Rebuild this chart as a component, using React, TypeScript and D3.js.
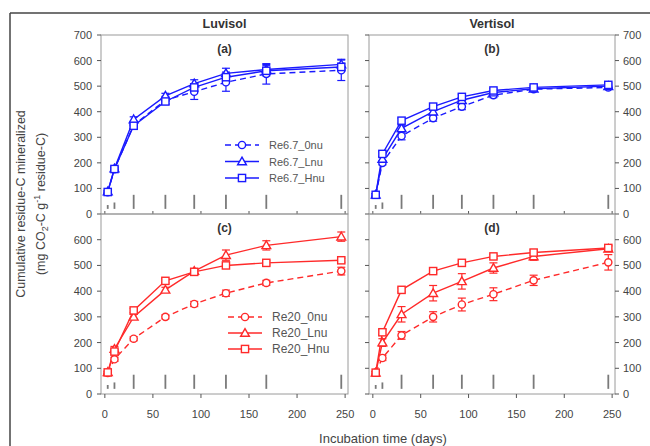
import React from "react";
import * as d3 from "d3";

// Sampling days of the incubation
const days = [3, 10, 30, 63, 93, 126, 168, 246];

// Luvisol, Re6.7 residue (blue)
const luvRe67_0nu = [85, 175, 348, 445, 478, 515, 548, 562];
const luvRe67_0nuErr = [5, 8, 15, 15, 30, 35, 40, 40];
const luvRe67_Lnu = [88, 178, 370, 462, 510, 550, 565, 585];
const luvRe67_LnuErr = [5, 8, 10, 10, 15, 20, 20, 20];
const luvRe67_Hnu = [86, 176, 345, 440, 495, 535, 560, 575];
const luvRe67_HnuErr = [5, 5, 10, 10, 15, 20, 20, 15];

// Vertisol, Re6.7 residue (blue)
const verRe67_0nu = [75, 200, 305, 375, 420, 465, 488, 495];
const verRe67_0nuErr = [5, 8, 15, 12, 12, 10, 8, 8];
const verRe67_Lnu = [75, 215, 335, 400, 445, 475, 490, 500];
const verRe67_LnuErr = [5, 10, 12, 10, 10, 8, 8, 8];
const verRe67_Hnu = [75, 235, 365, 420, 458, 483, 495, 505];
const verRe67_HnuErr = [5, 10, 10, 10, 10, 8, 8, 8];

// Luvisol, Re20 residue (red)
const luvRe20_0nu = [82, 135, 215, 300, 350, 392, 432, 478];
const luvRe20_0nuErr = [5, 8, 8, 8, 10, 12, 10, 15];
const luvRe20_Lnu = [85, 175, 300, 405, 478, 540, 578, 612];
const luvRe20_LnuErr = [5, 10, 10, 10, 10, 20, 18, 18];
const luvRe20_Hnu = [84, 165, 325, 440, 475, 500, 510, 520];
const luvRe20_HnuErr = [5, 8, 8, 8, 8, 8, 8, 8];

// Vertisol, Re20 residue (red)
const verRe20_0nu = [83, 140, 228, 300, 348, 388, 442, 512];
const verRe20_0nuErr = [5, 10, 15, 20, 25, 25, 20, 30];
const verRe20_Lnu = [83, 200, 310, 392, 438, 490, 535, 565];
const verRe20_LnuErr = [5, 15, 30, 30, 30, 20, 15, 10];
const verRe20_Hnu = [83, 240, 405, 478, 510, 535, 550, 568];
const verRe20_HnuErr = [5, 10, 8, 8, 8, 8, 10, 10];

// Grey sampling markers near the baseline (low / high values)
const markLow = [20, 20, 20, 20, 20, 20, 20, 20];
const markHigh = [35, 45, 75, 75, 75, 75, 75, 75];

const yTicksTop = [0, 100, 200, 300, 400, 500, 600, 700];
const yTicksBottom = [0, 100, 200, 300, 400, 500, 600];
const xTicks = [0, 50, 100, 150, 200, 250];

const BLUE = "#1a1aff";
const RED = "#ff2a2a";
const FONT = "Liberation Sans, Arial, sans-serif";

type Marker = "circle" | "triangle" | "square";
type Series = { name: string; values: number[]; err: number[]; marker: Marker; dashed: boolean };

function MarkerShape({ kind, x, y, color }: { kind: Marker; x: number; y: number; color: string }) {
  const sw = 1.4;
  if (kind === "circle") return <circle cx={x} cy={y} r={3.6} fill="white" stroke={color} strokeWidth={sw} />;
  if (kind === "square")
    return <rect x={x - 3.6} y={y - 3.6} width={7.2} height={7.2} fill="white" stroke={color} strokeWidth={sw} />;
  const s = 4.4;
  return (
    <path
      d={`M${x},${y - s} L${x + s},${y + s * 0.75} L${x - s},${y + s * 0.75} Z`}
      fill="white"
      stroke={color}
      strokeWidth={sw}
    />
  );
}

type PanelProps = {
  x0: number;
  x1: number;
  y0: number;
  y1: number;
  yMaxTick: number[];
  series: Series[];
  color: string;
  label: string;
  leftLabels: boolean;
  rightLabels: boolean;
  bottomLabels: boolean;
};

function Panel({ x0, x1, y0, y1, yMaxTick, series, color, label, leftLabels, rightLabels, bottomLabels }: PanelProps) {
  const x = d3.scaleLinear().domain([-4, 253]).range([x0, x1]);
  const y = d3.scaleLinear().domain([0, 700]).range([y1, y0]);
  const line = d3
    .line<number>()
    .x((_, i) => x(days[i]))
    .y((v) => y(v));
  const tickCol = "#555";
  const labCol = "#444";
  return (
    <g>
      {/* baseline sampling marks */}
      {days.map((d, i) => (
        <line key={"m" + i} x1={x(d)} x2={x(d)} y1={y(markLow[i])} y2={y(markHigh[i])} stroke="#7a7a7a" strokeWidth={1.8} />
      ))}
      {/* series lines */}
      {series.map((s) => (
        <path
          key={"l" + s.name}
          d={line(s.values) ?? ""}
          fill="none"
          stroke={color}
          strokeWidth={1.4}
          strokeDasharray={s.dashed ? "6,4" : undefined}
        />
      ))}
      {/* error bars */}
      {series.map((s) =>
        s.values.map((v, i) => {
          const cx = x(days[i]);
          const top = y(v + s.err[i]);
          const bot = y(v - s.err[i]);
          return (
            <g key={"e" + s.name + i} stroke={color} strokeWidth={1.2}>
              <line x1={cx} x2={cx} y1={top} y2={bot} />
              <line x1={cx - 4} x2={cx + 4} y1={top} y2={top} />
              <line x1={cx - 4} x2={cx + 4} y1={bot} y2={bot} />
            </g>
          );
        })
      )}
      {/* markers */}
      {series.map((s) =>
        s.values.map((v, i) => <MarkerShape key={"p" + s.name + i} kind={s.marker} x={x(days[i])} y={y(v)} color={color} />)
      )}
      {/* frame */}
      <rect x={x0} y={y0} width={x1 - x0} height={y1 - y0} fill="none" stroke="#9a9a9a" strokeWidth={1} />
      {/* left y ticks */}
      {yMaxTick.map((t) => (
        <g key={"yl" + t}>
          <line x1={x0 - 4} x2={x0} y1={y(t)} y2={y(t)} stroke={tickCol} strokeWidth={1} />
          {leftLabels && (
            <text x={x0 - 9} y={y(t) + 4} textAnchor="end" fontSize={11} fill={labCol} fontFamily={FONT}>
              {t}
            </text>
          )}
        </g>
      ))}
      {/* right y ticks */}
      {rightLabels &&
        yMaxTick.map((t) => (
          <g key={"yr" + t}>
            <line x1={x1} x2={x1 + 4} y1={y(t)} y2={y(t)} stroke={tickCol} strokeWidth={1} />
            <text x={x1 + 8} y={y(t) + 4} textAnchor="start" fontSize={11} fill={labCol} fontFamily={FONT}>
              {t}
            </text>
          </g>
        ))}
      {/* x ticks */}
      {xTicks.map((t) =>
        bottomLabels ? (
          <g key={"x" + t}>
            <line x1={x(t)} x2={x(t)} y1={y1} y2={y1 + 4} stroke={tickCol} strokeWidth={1} />
            <text x={x(t)} y={y1 + 24} textAnchor="middle" fontSize={11} fill={labCol} fontFamily={FONT}>
              {t}
            </text>
          </g>
        ) : (
          <line key={"x" + t} x1={x(t)} x2={x(t)} y1={y1} y2={y1 - 3} stroke={tickCol} strokeWidth={1} />
        )
      )}
      <text
        x={(x0 + x1) / 2}
        y={y0 + 18}
        textAnchor="middle"
        fontSize={12}
        fontWeight="bold"
        fill="#333"
        fontFamily={FONT}
      >
        {label}
      </text>
    </g>
  );
}

function Legend({ x, y, series, color, fontSize, gap }: { x: number; y: number; series: Series[]; color: string; fontSize: number; gap: number }) {
  return (
    <g>
      {series.map((s, i) => {
        const cy = y + i * gap;
        return (
          <g key={s.name}>
            <line
              x1={x}
              x2={x + 34}
              y1={cy}
              y2={cy}
              stroke={color}
              strokeWidth={1.4}
              strokeDasharray={s.dashed ? "6,4" : undefined}
            />
            <MarkerShape kind={s.marker} x={x + 17} y={cy} color={color} />
            <text x={x + 44} y={cy + 4} fontSize={fontSize} fill="#555" fontFamily={FONT}>
              {s.name}
            </text>
          </g>
        );
      })}
    </g>
  );
}

export default function App() {
  const mk = (names: string[], vals: number[][], errs: number[][]): Series[] => [
    { name: names[0], values: vals[0], err: errs[0], marker: "circle", dashed: true },
    { name: names[1], values: vals[1], err: errs[1], marker: "triangle", dashed: false },
    { name: names[2], values: vals[2], err: errs[2], marker: "square", dashed: false },
  ];
  const n67 = ["Re6.7_0nu", "Re6.7_Lnu", "Re6.7_Hnu"];
  const n20 = ["Re20_0nu", "Re20_Lnu", "Re20_Hnu"];
  const sA = mk(n67, [luvRe67_0nu, luvRe67_Lnu, luvRe67_Hnu], [luvRe67_0nuErr, luvRe67_LnuErr, luvRe67_HnuErr]);
  const sB = mk(n67, [verRe67_0nu, verRe67_Lnu, verRe67_Hnu], [verRe67_0nuErr, verRe67_LnuErr, verRe67_HnuErr]);
  const sC = mk(n20, [luvRe20_0nu, luvRe20_Lnu, luvRe20_Hnu], [luvRe20_0nuErr, luvRe20_LnuErr, luvRe20_HnuErr]);
  const sD = mk(n20, [verRe20_0nu, verRe20_Lnu, verRe20_Hnu], [verRe20_0nuErr, verRe20_LnuErr, verRe20_HnuErr]);

  const L = { x0: 101, x1: 348 };
  const R = { x0: 369, x1: 615 };
  const T = { y0: 35, y1: 214 };
  const B = { y0: 214, y1: 394 };

  return (
    <svg
      width={650}
      height={446}
      style={{ position: "absolute", left: 0, top: 0, background: "white" }}
      fontFamily={FONT}
    >
      {/* outer figure frame */}
      <line x1={10} x2={650} y1={13} y2={13} stroke="#444" strokeWidth={1.5} />
      <line x1={10} x2={10} y1={13} y2={446} stroke="#444" strokeWidth={1.5} />

      <text x={(L.x0 + L.x1) / 2} y={28} textAnchor="middle" fontSize={12.5} fontWeight="bold" fill="#333">
        Luvisol
      </text>
      <text x={(R.x0 + R.x1) / 2} y={28} textAnchor="middle" fontSize={12.5} fontWeight="bold" fill="#333">
        Vertisol
      </text>

      <Panel {...L} {...T} yMaxTick={yTicksTop} series={sA} color={BLUE} label="(a)" leftLabels rightLabels={false} bottomLabels={false} />
      <Panel {...R} {...T} yMaxTick={yTicksTop} series={sB} color={BLUE} label="(b)" leftLabels={false} rightLabels bottomLabels={false} />
      <Panel {...L} {...B} yMaxTick={yTicksBottom} series={sC} color={RED} label="(c)" leftLabels rightLabels={false} bottomLabels />
      <Panel {...R} {...B} yMaxTick={yTicksBottom} series={sD} color={RED} label="(d)" leftLabels={false} rightLabels bottomLabels />

      <Legend x={225} y={145} series={sA} color={BLUE} fontSize={11} gap={16.5} />
      <Legend x={228} y={317} series={sC} color={RED} fontSize={12} gap={16} />

      <g transform="translate(25,204) rotate(-90)">
        <text textAnchor="middle" fontSize={12.5} fill="#444">
          Cumulative residue-C mineralized
        </text>
      </g>
      <g transform="translate(45,204) rotate(-90)">
        <text textAnchor="middle" fontSize={12.5} fill="#444">
          (mg CO
          <tspan fontSize={9} dy={3}>2</tspan>
          <tspan dy={-3}>-C g</tspan>
          <tspan fontSize={9} dy={-5}>-1</tspan>
          <tspan dy={5}> residue-C)</tspan>
        </text>
      </g>

      <text x={383} y={443} textAnchor="middle" fontSize={13} fill="#444">
        Incubation time (days)
      </text>
    </svg>
  );
}
